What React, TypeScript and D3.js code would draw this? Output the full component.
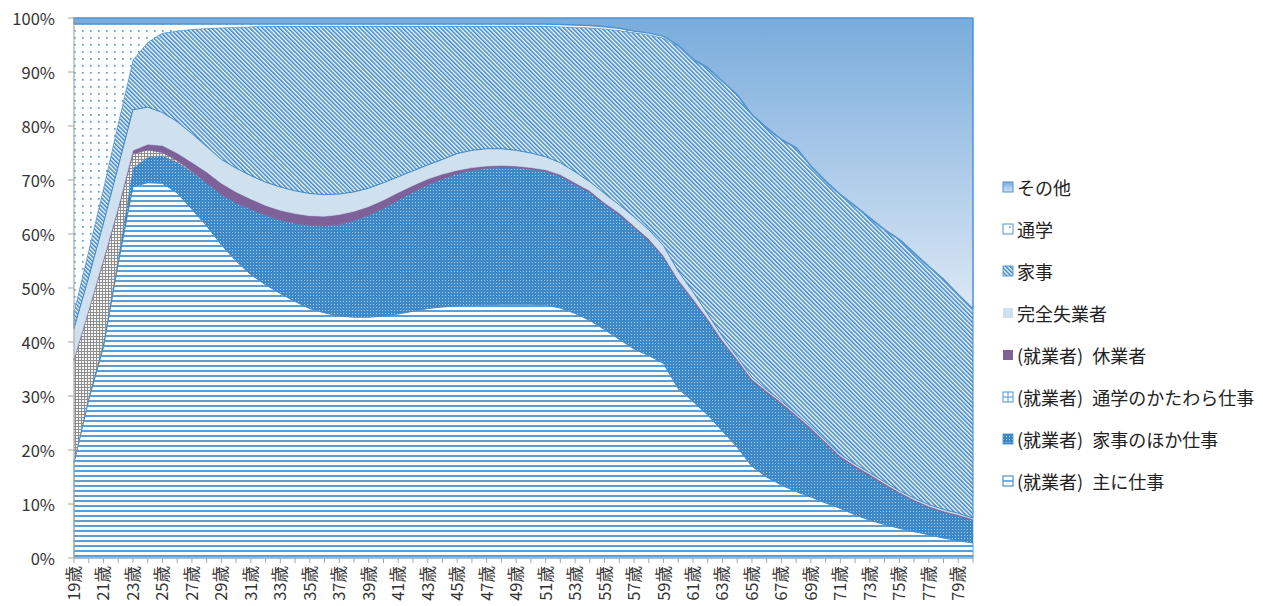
import React from 'react';
import * as d3 from 'd3';

const ages = [19,20,21,22,23,24,25,26,27,28,29,30,31,32,33,34,35,36,37,38,39,40,41,42,43,44,45,46,47,48,49,50,51,52,53,54,55,56,57,58,59,60,61,62,63,64,65,66,67,68,69,70,71,72,73,74,75,76,77,78,79,80];

// (就業者)主に仕事
const shuShigoto = [17.6,29.3,39.1,54.6,68.8,69.5,69.4,67.6,64.6,61.5,58.0,55.0,52.5,50.6,49.0,47.5,46.2,45.4,44.8,44.6,44.6,44.8,45.2,45.7,46.2,46.5,46.7,46.8,46.9,47.0,47.0,47.0,46.9,46.3,45.3,44.0,42.3,40.5,38.7,37.5,36.0,31.5,29.0,26.5,23.5,20.5,17.0,15.0,13.5,12.3,11.3,10.2,9.2,8.0,7.0,6.2,5.5,4.9,4.3,3.7,3.2,2.8];
// (就業者)家事のほか仕事
const kajiHoka = [0.3,0.5,0.8,1.0,3.4,4.7,5.1,5.7,6.9,8.0,9.3,10.8,12.1,12.9,13.6,14.5,15.4,16.1,17.0,17.9,18.9,20.0,21.1,22.1,22.9,23.7,24.5,25.0,25.3,25.3,25.3,25.0,24.7,24.4,23.9,23.7,23.2,23.1,22.5,21.3,19.6,20.0,18.7,17.5,16.5,16.0,15.8,15.6,15.0,13.9,12.5,11.0,9.4,8.8,8.2,7.3,6.5,5.7,5.1,4.8,4.6,4.2];
// (就業者)通学のかたわら仕事
const tsugakuKatawara = [18.8,16.0,15.1,8.9,2.6,1.4,0.6,0.3,0.1,0,0,0,0,0,0,0,0,0,0,0,0,0,0,0,0,0,0,0,0,0,0,0,0,0,0,0,0,0,0,0,0,0,0,0,0,0,0,0,0,0,0,0,0,0,0,0,0,0,0,0,0,0];
// (就業者)休業者
const kyugyo = [0.3,0.3,0.4,0.5,0.7,1.0,1.3,1.4,1.7,2.0,2.1,2.0,1.9,1.8,1.8,1.8,1.8,1.8,1.8,1.7,1.6,1.5,1.4,1.2,1.1,0.9,0.6,0.5,0.4,0.4,0.3,0.3,0.3,0.3,0.3,0.3,0.3,0.3,0.3,0.3,0.3,0.3,0.3,0.3,0.3,0.3,0.3,0.3,0.3,0.3,0.3,0.3,0.3,0.3,0.3,0.3,0.2,0.2,0.2,0.2,0.2,0.2];
// 完全失業者
const shitsugyo = [5.5,5.9,6.6,7.5,7.5,6.9,6.1,5.8,5.3,4.7,4.4,4.4,4.3,4.3,4.3,4.2,4.1,4.0,3.8,3.6,3.4,3.2,2.9,2.7,2.6,2.7,3.1,3.2,3.2,3.1,2.9,2.7,2.4,2.2,2.0,1.7,1.7,1.5,1.7,1.7,1.9,1.6,1.3,0.9,0.7,0.5,0.4,0.3,0.3,0.3,0.3,0.3,0.3,0.3,0.3,0.3,0.3,0.3,0.3,0.3,0.3,0.2];
// 家事
const kaji = [3.1,5.0,6.5,8.0,9.2,12.0,14.7,16.8,19.3,21.9,24.4,26.1,27.6,28.9,29.8,30.5,31.0,31.2,31.1,30.7,30.0,29.0,27.9,26.8,25.7,24.7,23.6,23.0,22.7,22.7,23.0,23.5,24.2,25.2,26.8,28.5,30.5,32.3,34.1,36.1,38.4,41.8,42.9,45.5,47.2,48.4,48.5,48.4,48.3,49.1,48.1,47.9,48.0,47.7,47.1,46.6,46.4,45.3,44.0,42.5,40.4,38.6];
// 通学
const tsugaku = [53.3,41.9,30.4,18.4,6.7,3.4,1.7,1.3,1.0,0.8,0.7,0.6,0.5,0.4,0.4,0.4,0.4,0.4,0.4,0.4,0.4,0.4,0.4,0.4,0.4,0.4,0.4,0.4,0.4,0.4,0.4,0.4,0.4,0.4,0.4,0.4,0.4,0.4,0.3,0.3,0.3,0.2,0.2,0.1,0.1,0.1,0.1,0.1,0.1,0.1,0.1,0.1,0.1,0.1,0.1,0.1,0.1,0.1,0.1,0.1,0.1,0.1];
// その他
const sonota = [1.1,1.1,1.1,1.1,1.1,1.1,1.1,1.1,1.1,1.1,1.1,1.1,1.1,1.1,1.1,1.1,1.1,1.1,1.1,1.1,1.1,1.1,1.1,1.1,1.1,1.1,1.1,1.1,1.1,1.1,1.1,1.1,1.1,1.2,1.3,1.4,1.6,1.9,2.4,2.8,3.4,5.1,7.6,9.2,11.7,14.2,17.9,20.3,22.5,24.0,27.4,30.2,32.7,34.8,37.0,39.2,41.0,43.5,46.0,48.4,51.2,53.9];

const seriesKeys = ['shu','kajiHoka','katawara','kyugyo','shitsugyo','kaji','tsugaku','sonota'];
const seriesPrefix = ['(就業者)','(就業者)','(就業者)','(就業者)','','','',''];
const seriesNames = ['主に仕事','家事のほか仕事','通学のかたわら仕事','休業者','完全失業者','家事','通学','その他'];
const yTickValues = [0,0.1,0.2,0.3,0.4,0.5,0.6,0.7,0.8,0.9,1];

const FONT = '"Noto Sans CJK JP", "Noto Sans", sans-serif';

export default function App() {
  const left = 74, right = 973, top = 18, bottom = 558;
  const rows = ages.map((a, i) => ({
    age: a,
    shu: shuShigoto[i], kajiHoka: kajiHoka[i], katawara: tsugakuKatawara[i], kyugyo: kyugyo[i],
    shitsugyo: shitsugyo[i], kaji: kaji[i], tsugaku: tsugaku[i], sonota: sonota[i],
  }));
  const stack = d3.stack<any>().keys(seriesKeys).offset(d3.stackOffsetExpand);
  const layers = stack(rows);
  const x = d3.scalePoint<number>().domain(ages).range([left, right]);
  const y = d3.scaleLinear().domain([0, 1]).range([bottom, top]);
  const area = d3.area<any>()
    .x((d: any) => x(d.data.age) as number)
    .y0((d: any) => y(d[0]))
    .y1((d: any) => y(d[1]));

  const fills: Record<string, string> = {
    shu: 'url(#pLines)', kajiHoka: 'url(#pDots)', katawara: 'url(#pGrid)', kyugyo: '#7f6199',
    shitsugyo: '#cfe0ef', kaji: 'url(#pDiag)', tsugaku: 'url(#pSparse)', sonota: 'url(#gOther)',
  };
  const strokes: Record<string, [string, number]> = {
    shu: ['#5b9bd5', 1], kajiHoka: ['#3d88c8', 0.6], katawara: ['#8c8c8c', 0.3], kyugyo: ['#7f6199', 0.8],
    shitsugyo: ['#c6dbee', 0.6], kaji: ['#3b87c7', 1], tsugaku: ['#5b9bd5', 0.3], sonota: ['#4f93d1', 1.5],
  };

  const legendOrder = [7, 6, 5, 4, 3, 2, 1, 0];

  const swatch = (key: string, sx: number, sy: number) => {
    const s = 10;
    switch (key) {
      case 'sonota':
        return <rect x={sx} y={sy} width={s} height={s} fill="url(#gOtherL)" stroke="#4f93d1" strokeWidth={1} />;
      case 'tsugaku':
        return <g><rect x={sx} y={sy} width={s} height={s} fill="#fff" stroke="#4f93d1" strokeWidth={1} /><rect x={sx + 6} y={sy + 2.5} width={1.5} height={1.5} fill="#4f93d1" /></g>;
      case 'kaji':
        return <rect x={sx} y={sy} width={s} height={s} fill="url(#pDiag)" stroke="#3b87c7" strokeWidth={0.8} />;
      case 'shitsugyo':
        return <rect x={sx} y={sy} width={s} height={s} fill="#cfe0ef" />;
      case 'kyugyo':
        return <rect x={sx} y={sy} width={s} height={s} fill="#7f6199" />;
      case 'katawara':
        return <g><rect x={sx} y={sy} width={s} height={s} fill="#fff" stroke="#4f93d1" strokeWidth={1} /><path d={`M${sx + 5},${sy}V${sy + s}M${sx},${sy + 5}H${sx + s}`} stroke="#4f93d1" strokeWidth={1} /></g>;
      case 'kajiHoka':
        return <rect x={sx} y={sy} width={s} height={s} fill="url(#pDots)" stroke="#3d88c8" strokeWidth={0.8} />;
      default:
        return <g><rect x={sx} y={sy} width={s} height={s} fill="#fff" stroke="#4f93d1" strokeWidth={1.2} /><path d={`M${sx},${sy + 5}H${sx + s}`} stroke="#4f93d1" strokeWidth={1.5} /></g>;
    }
  };

  return (
    <svg width={1263} height={606} style={{ display: 'block', position: 'absolute', left: 0, top: 0 }} fontFamily={FONT}>
      <defs>
        <pattern id="pLines" patternUnits="userSpaceOnUse" width={8} height={5}>
          <rect width={8} height={5} fill="#ffffff" />
          <rect y={0} width={8} height={2} fill="#5b9dd6" />
        </pattern>
        <pattern id="pDots" patternUnits="userSpaceOnUse" width={3} height={3}>
          <rect width={3} height={3} fill="#3d88c8" />
          <rect x={1} y={1} width={1} height={1} fill="#a9cdec" />
        </pattern>
        <pattern id="pGrid" patternUnits="userSpaceOnUse" width={3} height={3}>
          <rect width={3} height={3} fill="#f7f7f7" />
          <rect x={0} y={0} width={3} height={1} fill="#8e8e8e" />
          <rect x={0} y={0} width={1} height={3} fill="#8e8e8e" />
        </pattern>
        <pattern id="pDiag" patternUnits="userSpaceOnUse" width={3} height={3} patternTransform="rotate(-45)">
          <rect width={3} height={3} fill="#ffffff" />
          <rect x={0} y={0} width={1.6} height={3} fill="#3b87c7" />
        </pattern>
        <pattern id="pSparse" patternUnits="userSpaceOnUse" width={8} height={7}>
          <rect width={8} height={7} fill="#ffffff" />
          <rect x={2} y={2} width={1.7} height={1.7} fill="#5b9bd5" />
        </pattern>
        <linearGradient id="gOther" x1="0" y1="0" x2="0" y2="1">
          <stop offset="0" stopColor="#79acdc" />
          <stop offset="1" stopColor="#dce8f5" />
        </linearGradient>
        <linearGradient id="gOtherL" x1="0" y1="0" x2="0" y2="1">
          <stop offset="0" stopColor="#79acdc" />
          <stop offset="1" stopColor="#d0e2f3" />
        </linearGradient>
      </defs>

      <rect width={1263} height={606} fill="#ffffff" />

      {layers.map((layer: any) => (
        <path key={layer.key} d={area(layer) as string} fill={fills[layer.key]}
          stroke={strokes[layer.key][0]} strokeWidth={strokes[layer.key][1]} strokeLinejoin="round" />
      ))}

      {/* y axis */}
      <line x1={left} x2={left} y1={top} y2={bottom} stroke="#a6a6a6" strokeWidth={1} />
      {yTickValues.map(t => (
        <g key={t}>
          <line x1={left - 6} x2={left} y1={y(t)} y2={y(t)} stroke="#a6a6a6" strokeWidth={1} />
          <text x={55} y={y(t)} textAnchor="end" dominantBaseline="central" fontSize={16.5} fill="#333">
            {d3.format('.0%')(t)}
          </text>
        </g>
      ))}

      {/* x axis */}
      <line x1={left} x2={right} y1={bottom} y2={bottom} stroke="#a6a6a6" strokeWidth={1} />
      {ages.map(a => (
        <line key={a} x1={x(a)} x2={x(a)} y1={bottom} y2={bottom + 5} stroke="#a6a6a6" strokeWidth={1} />
      ))}
      {ages.filter((a, i) => i % 2 === 0).map(a => (
        <text key={a} transform={`translate(${(x(a) as number) - 1},566) rotate(-90)`} textAnchor="end"
          dominantBaseline="central" fontSize={16.5} fill="#333">
          {a}歳
        </text>
      ))}

      {/* legend */}
      {legendOrder.map((idx, i) => {
        const cy = 187 + i * 42;
        const k = seriesKeys[idx];
        const pre = seriesPrefix[idx];
        return (
          <g key={k}>
            {swatch(k, 1003, cy - 5)}
            <text x={1017} y={cy} dominantBaseline="central" fontSize={18} fill="#222">
              {pre ? <>{pre}<tspan dx={9}>{seriesNames[idx]}</tspan></> : seriesNames[idx]}
            </text>
          </g>
        );
      })}
    </svg>
  );
}
